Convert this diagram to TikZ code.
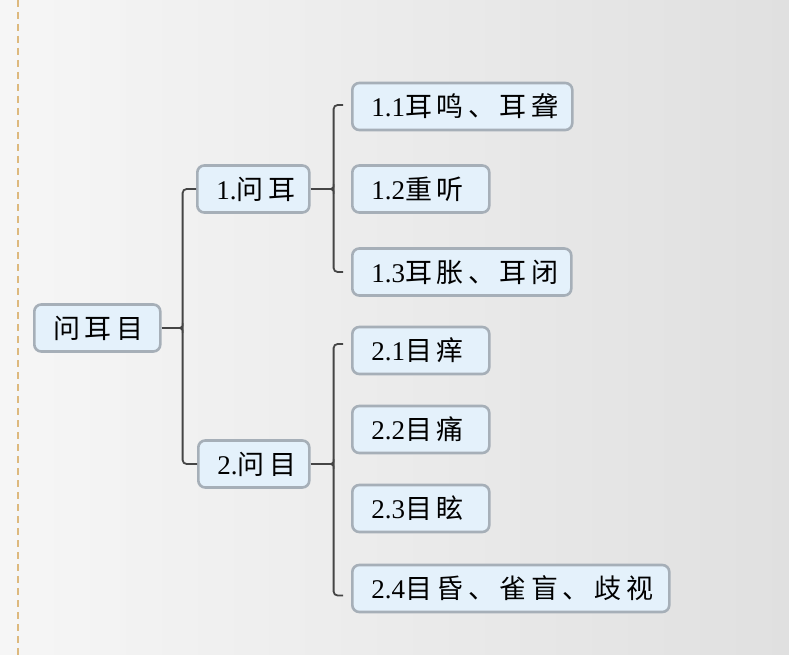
\documentclass[tikz,border=0pt]{standalone}
\usepackage{fontspec}
\setmainfont{Liberation Serif}
\newfontfamily\cjk[LetterSpace=17]{Noto Sans CJK SC}
\usetikzlibrary{calc}
\definecolor{boxfill}{HTML}{E4F1FB}
\definecolor{boxline}{HTML}{A6AFB8}
\definecolor{linkc}{HTML}{454545}
\definecolor{guide}{HTML}{DDB97E}
\definecolor{bgleft}{HTML}{F6F6F6}
\definecolor{bgright}{HTML}{E0E0E0}
\newcommand{\lbl}[2]{#1{\cjk #2}}

\begin{document}
\begin{tikzpicture}[x=1pt,y=-1pt,
  topic/.style={draw=boxline, line width=2.6pt, fill=boxfill, rounded corners=7pt,
    anchor=west, minimum height=47pt, inner xsep=19pt, inner ysep=0pt,
    align=left, text=black, font=\fontsize{27}{30}\selectfont},
  link/.style={draw=linkc, line width=1.8pt, rounded corners=4pt},
  cusp/.style={draw=linkc, line width=1.6pt}]

  % page background and guide line
  \shade[left color=bgleft, right color=bgright] (0,0) rectangle (789,655);
  \useasboundingbox (0,0) rectangle (789,655);
  \draw[guide, line width=1.8pt, dash pattern=on 7pt off 5pt] (18,0) -- (18,655);

  % topics
  \node[topic, text width=88pt]  (root) at (33,328)    {\lbl{}{问耳目}};
  \node[topic, text width=74pt]  (n1)   at (196,189)   {\lbl{1.}{问耳}};
  \node[topic, text width=73pt]  (n2)   at (197,464)   {\lbl{2.}{问目}};
  \node[topic, text width=182pt] (n11)  at (351,106.5) {\lbl{1.1}{耳鸣、耳聋}};
  \node[topic, text width=99pt]  (n12)  at (351,189)   {\lbl{1.2}{重听}};
  \node[topic, text width=181pt] (n13)  at (351,272)   {\lbl{1.3}{耳胀、耳闭}};
  \node[topic, text width=99pt]  (n21)  at (351,350.5) {\lbl{2.1}{目痒}};
  \node[topic, text width=99pt]  (n22)  at (351,429.5) {\lbl{2.2}{目痛}};
  \node[topic, text width=99pt]  (n23)  at (351,508.5) {\lbl{2.3}{目眩}};
  \node[topic, text width=279pt] (n24)  at (351,588.5) {\lbl{2.4}{目昏、雀盲、歧视}};

  % bracket junctions
  \coordinate (j0) at ($(root.east)+(21,0)$);
  \coordinate (j1) at ($(n1.east)+(23,0)$);
  \coordinate (j2) at ($(n2.east)+(23,0)$);
  \coordinate (e11) at ($(n11.west)+(-8,-1.5)$);
  \coordinate (e13) at ($(n13.west)+(-8,0)$);
  \coordinate (e21) at ($(n21.west)+(-8,-6.5)$);
  \coordinate (e24) at ($(n24.west)+(-8,7)$);

  % level 1
  \draw[link] (root.east) -- (j0);
  \draw[link] (n1.west) -| (j0) |- (n2.west);
  \draw[cusp] ($(j0)+(0,-5)$) .. controls ($(j0)+(0,-1)$) .. ($(j0)+(-3,0)$)
              .. controls ($(j0)+(0,1)$) .. ($(j0)+(0,5)$);

  % level 2: ear
  \draw[link] (n1.east) -- (j1);
  \draw[link] (e11) -| (j1) |- (e13);
  \draw[cusp] ($(j1)+(0,-5)$) .. controls ($(j1)+(0,-1)$) .. ($(j1)+(-3,0)$)
              .. controls ($(j1)+(0,1)$) .. ($(j1)+(0,5)$);

  % level 2: eye
  \draw[link] (n2.east) -- (j2);
  \draw[link] (e21) -| (j2) |- (e24);
  \draw[cusp] ($(j2)+(0,-5)$) .. controls ($(j2)+(0,-1)$) .. ($(j2)+(-3,0)$)
              .. controls ($(j2)+(0,1)$) .. ($(j2)+(0,5)$);
\end{tikzpicture}
\end{document}
